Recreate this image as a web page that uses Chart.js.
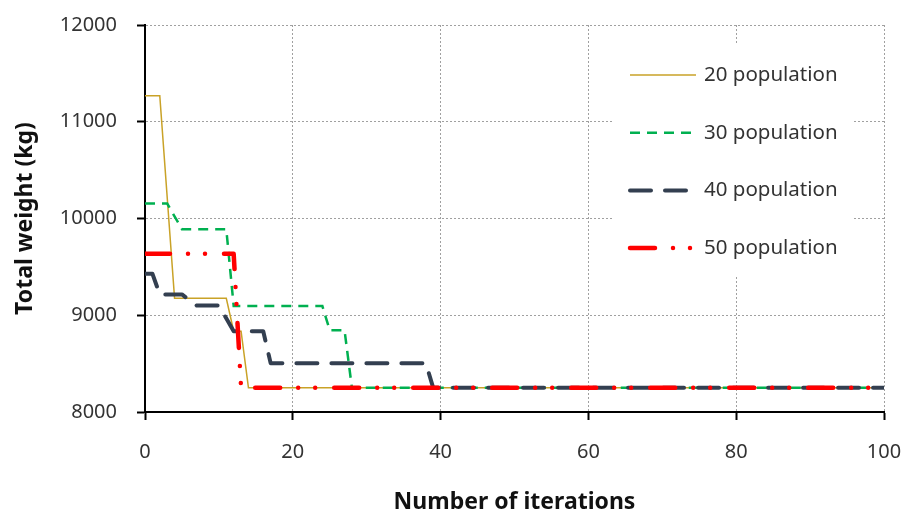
<!DOCTYPE html>
<html>
<head>
<meta charset="utf-8">
<script src="https://cdn.jsdelivr.net/npm/chart.js@4/dist/chart.umd.min.js"></script>
<style>
  html, body { margin: 0; padding: 0; background: #fff; }
  #wrap { width: 904px; height: 517px; }
</style>
</head>
<body>
<div id="wrap"><canvas id="weightChart" width="904" height="517"></canvas></div>
<script>
// iteration / weight pairs (change points of each run)
const iter20 = [0, 2, 4, 11, 12, 13, 14, 100];
const weight20 = [11270, 11270, 9175, 9175, 8835, 8835, 8250, 8250];

const iter30 = [0, 3, 5, 11, 12, 24, 25, 27, 28, 100];
const weight30 = [10155, 10155, 9890, 9890, 9095, 9095, 8845, 8845, 8250, 8250];

const iter40 = [0, 1, 2, 5, 7, 10, 12, 16, 17, 38, 39, 100];
const weight40 = [9430, 9430, 9215, 9215, 9100, 9100, 8835, 8835, 8505, 8505, 8250, 8250];

const iter50 = [0, 12, 13, 100];
const weight50 = [9635, 9635, 8250, 8250];

const seriesLabels = ['20 population', '30 population', '40 population', '50 population'];
const xTicks = [0, 20, 40, 60, 80, 100];
const yTicks = [8000, 9000, 10000, 11000, 12000];

const FONT = "'Noto Sans', 'DejaVu Sans', sans-serif";

function toPoints(xs, ys) {
    return xs.map((x, i) => ({ x: x, y: ys[i] }));
}

// legend drawn inside the plot, on a white box like the original
const insideLegend = {
    id: 'insideLegend',
    afterDraw(chart) {
        const ctx = chart.ctx;
        const area = chart.chartArea;
        const boxLeft = area.right - 271;
        const boxTop = area.top + 20;
        ctx.save();
        ctx.fillStyle = '#fff';
        ctx.fillRect(boxLeft, boxTop, 240, 232);

        chart.data.datasets.forEach((ds, i) => {
            const y = boxTop + 30 + i * 57.7;
            const x0 = boxLeft + 17;
            ctx.beginPath();
            ctx.strokeStyle = ds.borderColor;
            ctx.lineWidth = ds.borderWidth;
            ctx.lineCap = ds.borderCapStyle || 'butt';
            ctx.setLineDash(ds.borderDash || []);
            ctx.moveTo(x0, y);
            ctx.lineTo(x0 + 66, y);
            ctx.stroke();

            ctx.setLineDash([]);
            ctx.fillStyle = '#333';
            ctx.font = '20.5px ' + FONT;
            ctx.textBaseline = 'middle';
            ctx.textAlign = 'left';
            ctx.fillText(ds.label, boxLeft + 91, y);
        });
        ctx.restore();
    }
};

const ctx = document.getElementById('weightChart').getContext('2d');

new Chart(ctx, {
    type: 'line',
    data: {
        datasets: [
            {
                label: seriesLabels[0],
                data: toPoints(iter20, weight20),
                borderColor: '#C9A227',
                borderWidth: 1.5,
                order: 3
            },
            {
                label: seriesLabels[1],
                data: toPoints(iter30, weight30),
                borderColor: '#00B050',
                borderWidth: 2.5,
                borderDash: [10, 7],
                order: 2
            },
            {
                label: seriesLabels[2],
                data: toPoints(iter40, weight40),
                borderColor: '#333F50',
                borderWidth: 4,
                borderDash: [21, 14],
                borderCapStyle: 'round',
                borderJoinStyle: 'round',
                order: 1
            },
            {
                label: seriesLabels[3],
                data: toPoints(iter50, weight50),
                borderColor: '#FF0000',
                borderWidth: 4.5,
                borderDash: [25, 18, 0, 17, 0, 19],
                borderCapStyle: 'round',
                borderJoinStyle: 'round',
                order: 0
            }
        ]
    },
    options: {
        responsive: false,
        animation: false,
        events: [],
        layout: { padding: { top: 25, right: 20, left: 0, bottom: 0 } },
        elements: {
            point: { radius: 0 },
            line: { tension: 0, fill: false }
        },
        plugins: {
            legend: { display: false },
            tooltip: { enabled: false }
        },
        scales: {
            x: {
                type: 'linear',
                min: 0,
                max: 100,
                afterBuildTicks: (scale) => { scale.ticks = xTicks.map(v => ({ value: v })); },
                afterFit: (scale) => {
                    scale.height = 105;
                    scale.paddingLeft = 0;
                    scale.paddingRight = 0;
                },
                ticks: {
                    color: '#333',
                    font: { family: FONT, size: 20 },
                    padding: 20,
                    maxRotation: 0
                },
                grid: {
                    color: '#a0a0a0',
                    lineWidth: 1,
                    tickColor: '#000',
                    tickWidth: 2,
                    tickLength: 8,
                    tickBorderDash: []
                },
                border: { display: true, color: '#000', width: 2, dash: [2, 2] },
                title: {
                    display: true,
                    text: 'Number of iterations',
                    color: '#111',
                    font: { family: FONT, size: 23, weight: 'bold' },
                    padding: { top: 0, bottom: 1 }
                }
            },
            y: {
                type: 'linear',
                min: 8000,
                max: 12000,
                afterBuildTicks: (scale) => { scale.ticks = yTicks.map(v => ({ value: v })); },
                afterFit: (scale) => {
                    scale.width = 145;
                    scale.paddingTop = 0;
                    scale.paddingBottom = 0;
                },
                ticks: {
                    color: '#333',
                    font: { family: FONT, size: 20 },
                    padding: 20,
                    callback: (v) => String(v)
                },
                grid: {
                    color: '#a0a0a0',
                    lineWidth: 1,
                    tickColor: '#000',
                    tickWidth: 2,
                    tickLength: 8,
                    tickBorderDash: []
                },
                border: { display: true, color: '#000', width: 2, dash: [2, 2] },
                title: {
                    display: true,
                    text: 'Total weight (kg)',
                    color: '#111',
                    font: { family: FONT, size: 23, weight: 'bold' },
                    padding: { top: 12, bottom: 0 }
                }
            }
        }
    },
    plugins: [insideLegend]
});
</script>
</body>
</html>
